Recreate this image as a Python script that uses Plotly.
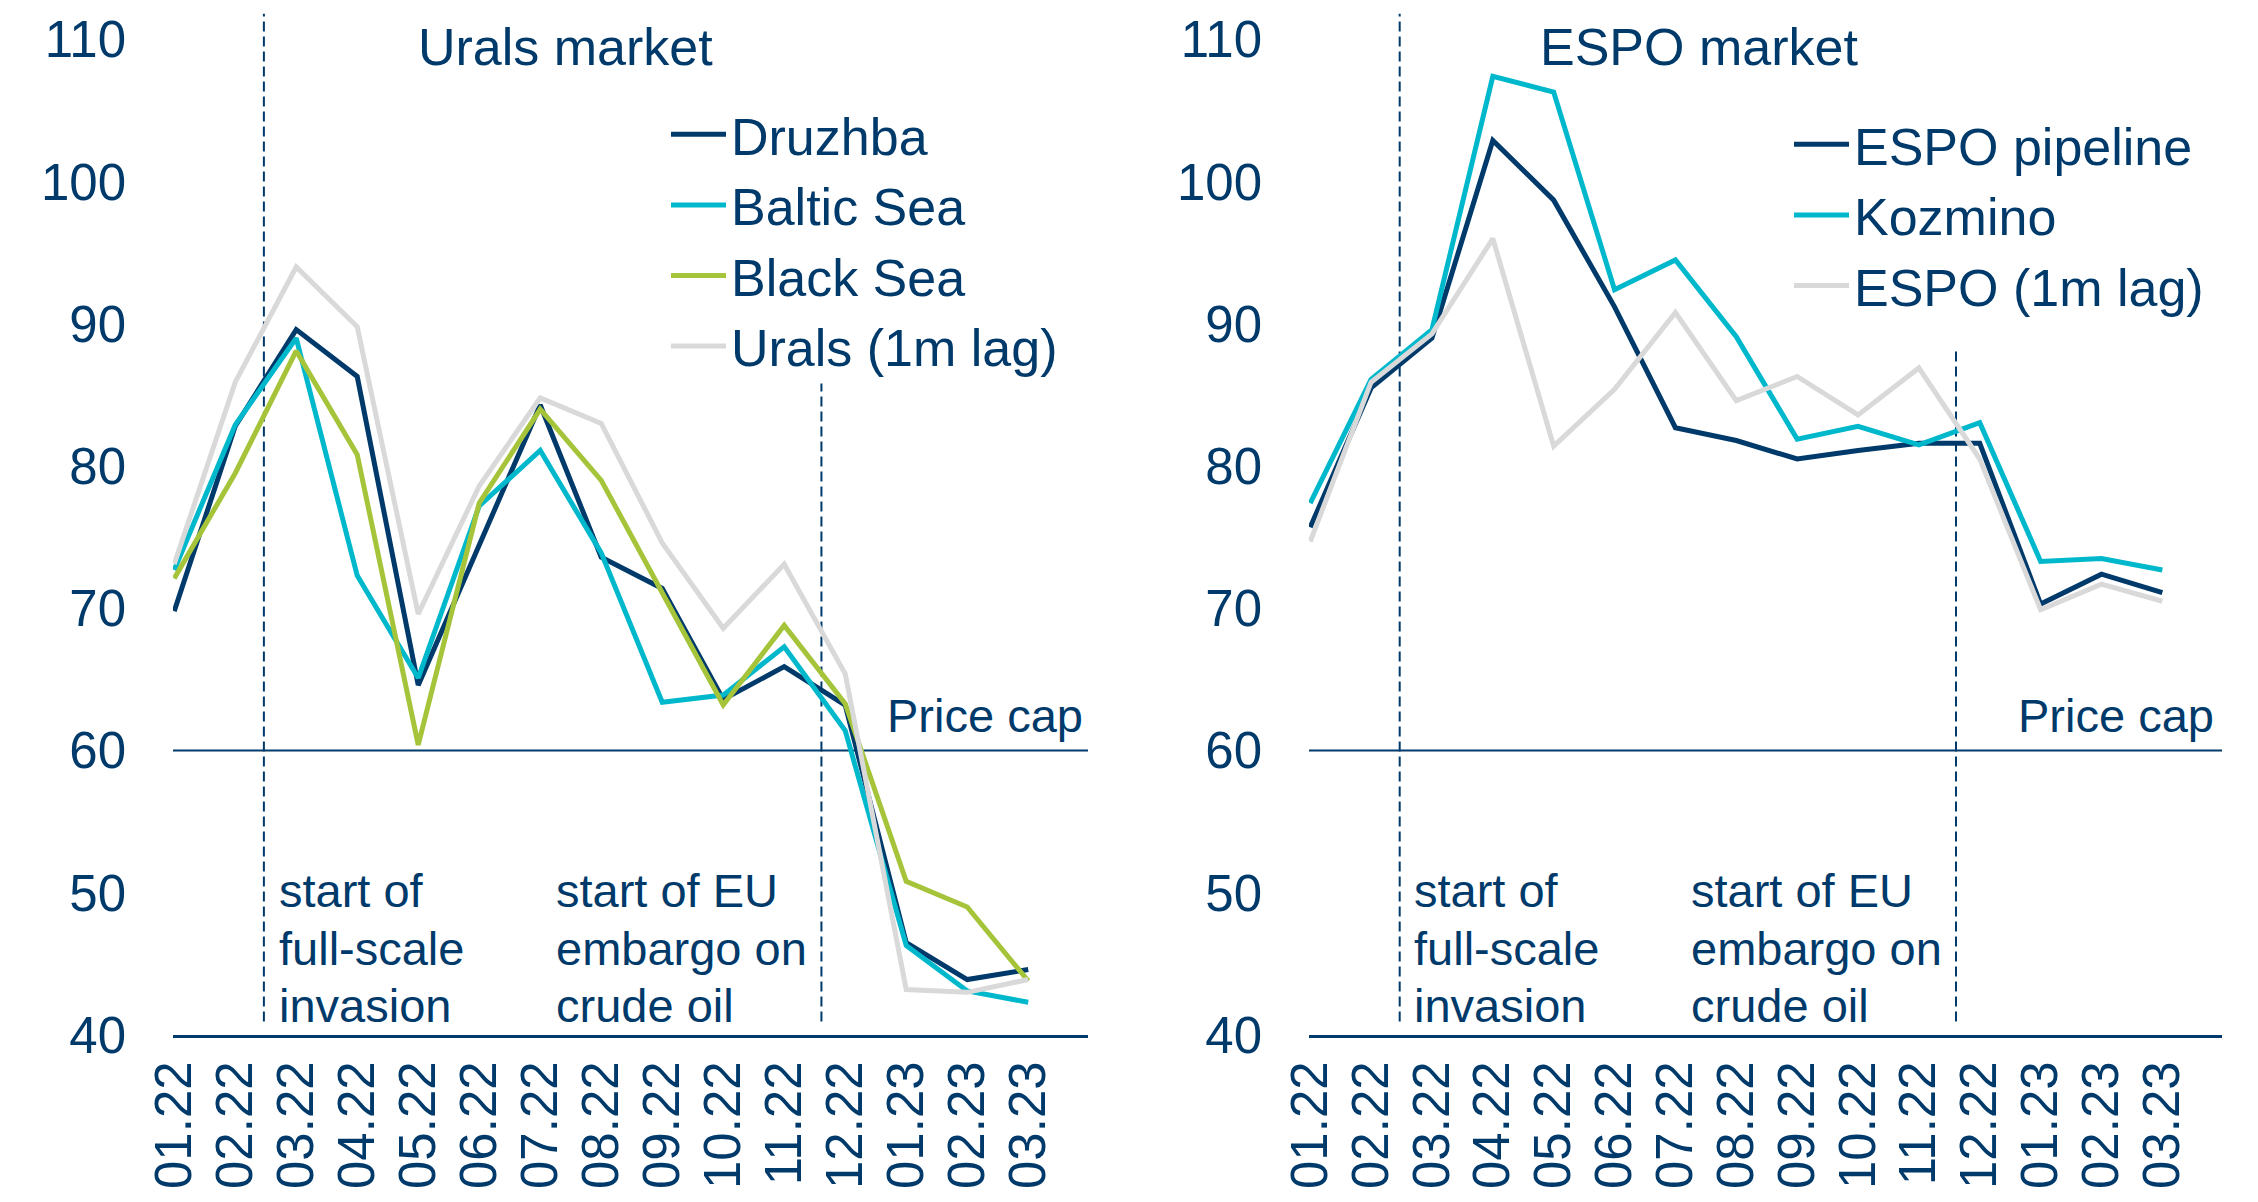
import plotly.graph_objects as go

# ---------------- data ----------------
months = ["01.22", "02.22", "03.22", "04.22", "05.22", "06.22", "07.22", "08.22",
          "09.22", "10.22", "11.22", "12.22", "01.23", "02.23", "03.23"]

druzhba = [69.8, 82.8, 89.6, 86.3, 64.6, 74.5, 84.3, 73.6, 71.4, 63.6, 65.9, 63.2, 46.5, 43.9, 44.6]
baltic = [72.7, 82.9, 89.0, 72.3, 65.1, 77.2, 81.1, 73.9, 63.4, 63.9, 67.3, 61.4, 46.3, 43.1, 42.3]
black_sea = [72.1, 79.5, 88.1, 80.8, 60.4, 77.4, 84.0, 79.0, 71.1, 63.2, 68.8, 63.3, 50.8, 49.0, 43.8]
urals_lag = [73.1, 85.9, 94.0, 89.8, 69.6, 78.6, 84.8, 83.0, 74.6, 68.6, 73.1, 65.4, 43.2, 43.0, 43.9]

espo_pipeline = [75.7, 85.5, 89.0, 102.9, 98.7, 91.2, 82.7, 81.8, 80.5, 81.1, 81.6, 81.6, 70.3, 72.4, 71.1]
kozmino = [77.4, 86.1, 89.6, 107.4, 106.3, 92.4, 94.5, 89.1, 81.9, 82.8, 81.5, 83.05, 73.3, 73.5, 72.7]
espo_lag = [74.7, 85.9, 89.3, 96.0, 81.4, 85.4, 90.8, 84.6, 86.3, 83.6, 86.9, 80.5, 69.9, 71.7, 70.5]

price_cap = 60
y_ticks = [40, 50, 60, 70, 80, 90, 100, 110]

# ---------------- styles ----------------
NAVY = "#003A6B"
CYAN = "#00B8CC"
GREEN = "#A5C43A"
GRAY = "#D9D9D9"
FONT = "Arial, Liberation Sans, sans-serif"

# page body has an 8px margin: the figure is drawn 8px in from the window corner
OFF = 8
FIG_W, FIG_H = 2258 - 2 * OFF, 1202 - 2 * OFF
PLOT_L = 173 - OFF
PLOT_R = FIG_W - (2222 - OFF)
PLOT_T = 11 - OFF
PLOT_B = FIG_H - (1035 - OFF)
PW = FIG_W - PLOT_L - PLOT_R
PH = FIG_H - PLOT_T - PLOT_B


def px_x(px):
    """window pixel -> paper x"""
    return (px - OFF - PLOT_L) / PW


def px_y(py):
    """window pixel -> paper y"""
    return (FIG_H - PLOT_B - (py - OFF)) / PH


fig = go.Figure()

left_series = [("Druzhba", druzhba, NAVY), ("Baltic Sea", baltic, CYAN),
               ("Black Sea", black_sea, GREEN), ("Urals (1m lag)", urals_lag, GRAY)]
right_series = [("ESPO pipeline", espo_pipeline, NAVY), ("Kozmino", kozmino, CYAN),
                ("ESPO (1m lag)", espo_lag, GRAY)]

for name, vals, col in left_series:
    fig.add_trace(go.Scatter(x=months, y=vals, mode="lines", name=name,
                             line=dict(color=col, width=5),
                             xaxis="x", yaxis="y", legend="legend"))
for name, vals, col in right_series:
    fig.add_trace(go.Scatter(x=months, y=vals, mode="lines", name=name,
                             line=dict(color=col, width=5),
                             xaxis="x2", yaxis="y2", legend="legend2"))

xcommon = dict(type="category", range=[-0.02, 14.98], showline=True, linecolor=NAVY,
               linewidth=3, ticks="", tickangle=-90, showgrid=False, zeroline=False,
               tickmode="array", tickvals=months, ticktext=months,
               tickfont=dict(family=FONT, size=51, color=NAVY), ticklabelstandoff=3,
               automargin=False, fixedrange=True)
ycommon = dict(range=[40, 112], tickvals=y_ticks, showgrid=False, zeroline=False,
               showline=False, ticks="", tickfont=dict(family=FONT, size=51, color=NAVY),
               ticklabelstandoff=46, domain=[0, 1], automargin=False, fixedrange=True)

fig.update_layout(
    width=FIG_W, height=FIG_H,
    margin=dict(l=PLOT_L, r=PLOT_R, t=PLOT_T, b=PLOT_B, autoexpand=False),
    paper_bgcolor="white", plot_bgcolor="white",
    font=dict(family=FONT, color=NAVY),
    xaxis=dict(domain=[0, px_x(1088)], anchor="y", **xcommon),
    yaxis=dict(anchor="x", **ycommon),
    xaxis2=dict(domain=[px_x(1309), 1.0], anchor="y2", **xcommon),
    yaxis2=dict(anchor="x2", **ycommon),
    legend=dict(x=px_x(666), y=px_y(94), xanchor="left", yanchor="top", itemwidth=55,
                bgcolor="rgba(0,0,0,0)", font=dict(family=FONT, size=52, color=NAVY)),
    legend2=dict(x=px_x(1789), y=px_y(104), xanchor="left", yanchor="top", itemwidth=55,
                 bgcolor="rgba(0,0,0,0)", font=dict(family=FONT, size=52, color=NAVY)),
)

shapes = []
annotations = []
for xr, yr, dash2_top, title, title_x, cap_x in [
        ("x", "y", 85.8, "Urals market", 6.41, 14.93),
        ("x2", "y2", 88.1, "ESPO market", 6.39, 14.88)]:
    # price cap line
    shapes.append(dict(type="line", xref=f"{xr} domain", yref=yr, x0=0, x1=1,
                       y0=price_cap, y1=price_cap, layer="below",
                       line=dict(color=NAVY, width=2)))
    # event lines
    shapes.append(dict(type="line", xref=xr, yref=yr, x0=1.47, x1=1.47, y0=40.95, y1=111.8,
                       layer="below", line=dict(color=NAVY, width=2, dash="10px,5px")))
    shapes.append(dict(type="line", xref=xr, yref=yr, x0=10.61, x1=10.61, y0=40.95,
                       y1=dash2_top, layer="below",
                       line=dict(color=NAVY, width=2, dash="10px,5px")))
    annotations.append(dict(xref=xr, yref=yr, x=title_x, y=109.45, text=title,
                            showarrow=False, xanchor="center", yanchor="middle",
                            font=dict(family=FONT, size=52, color=NAVY)))
    annotations.append(dict(xref=xr, yref=yr, x=cap_x, y=62.5, text="Price cap",
                            showarrow=False, xanchor="right", yanchor="middle",
                            font=dict(family=FONT, size=47, color=NAVY)))
    for x0, lines in [(1.68, ["start of", "full-scale", "invasion"]),
                      (6.22, ["start of EU", "embargo on", "crude oil"])]:
        for ly, txt in zip([50.15, 46.1, 42.07], lines):
            annotations.append(dict(xref=xr, yref=yr, x=x0, y=ly, text=txt,
                                    showarrow=False, xanchor="left", yanchor="middle",
                                    font=dict(family=FONT, size=47, color=NAVY)))

fig.update_layout(shapes=shapes, annotations=annotations)

fig.write_html("out.html")
